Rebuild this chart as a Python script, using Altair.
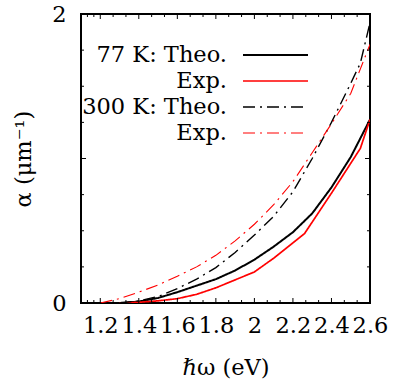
import altair as alt
import pandas as pd

# ---- data ----
series_names = ["77 K: Theo.", "77 K: Exp.", "300 K: Theo.", "300 K: Exp."]
legend_labels = ["77 K: Theo.", "Exp.", "300 K: Theo.", "Exp."]

x77_theo = [1.3, 1.4, 1.5, 1.6, 1.7, 1.8, 1.9, 2.0, 2.1, 2.2, 2.3, 2.4, 2.5, 2.6]
y77_theo = [0.0, 0.01, 0.035, 0.075, 0.12, 0.165, 0.225, 0.30, 0.39, 0.49, 0.62, 0.80, 1.01, 1.27]

x77_exp = [1.3, 1.4, 1.5, 1.6, 1.7, 1.8, 1.9, 2.0, 2.1, 2.26, 2.4, 2.55, 2.6]
y77_exp = [0.0, 0.005, 0.015, 0.03, 0.06, 0.105, 0.16, 0.215, 0.31, 0.48, 0.76, 1.07, 1.27]

x300_theo = [1.3, 1.4, 1.5, 1.6, 1.7, 1.8, 1.9, 2.0, 2.1, 2.2, 2.3, 2.4, 2.5, 2.55, 2.6]
y300_theo = [0.0, 0.015, 0.045, 0.10, 0.165, 0.245, 0.35, 0.47, 0.60, 0.77, 1.00, 1.25, 1.52, 1.66, 1.94]

x300_exp = [1.2, 1.3, 1.4, 1.5, 1.6, 1.7, 1.8, 1.9, 2.0, 2.1, 2.2, 2.3, 2.4, 2.5, 2.6]
y300_exp = [0.0, 0.03, 0.075, 0.125, 0.185, 0.25, 0.33, 0.43, 0.545, 0.68, 0.84, 1.04, 1.24, 1.45, 1.79]

x_major = [1.2, 1.4, 1.6, 1.8, 2.0, 2.2, 2.4, 2.6]
x_minor = [1.1333, 1.1667, 1.2667, 1.3333, 1.4667, 1.5333, 1.6667, 1.7333, 1.8667, 1.9333,
           2.0667, 2.1333, 2.2667, 2.3333, 2.4667, 2.5333]
y_major = [0, 1, 2]
y_minor = [0.25, 0.5, 0.75, 1.25, 1.5, 1.75]

# ---- styling ----
W, H = 289, 289
FONT = "DejaVu Serif"
FS = 22.5
colors = ["black", "red", "black", "red"]
dashes = [[1, 0], [1, 0], [12, 5, 2, 5], [12, 5, 2, 5]]
widths = [2.0, 1.1, 2.0, 1.2]

rows = []
for name, xs, ys in zip(series_names, [x77_theo, x77_exp, x300_theo, x300_exp],
                        [y77_theo, y77_exp, y300_theo, y300_exp]):
    for xv, yv in zip(xs, ys):
        rows.append({"series": name, "x": xv, "y": yv})
df = pd.DataFrame(rows)

xscale = alt.Scale(domain=[1.1, 2.6], nice=False, zero=False)
yscale = alt.Scale(domain=[0, 2], nice=False)
color_enc = alt.Color("series:N", scale=alt.Scale(domain=series_names, range=colors), legend=None)
dash_enc = alt.StrokeDash("series:N", scale=alt.Scale(domain=series_names, range=dashes), legend=None)
width_enc = alt.StrokeWidth("series:N", scale=alt.Scale(domain=series_names, range=widths), legend=None)

lines = alt.Chart(df).mark_line(clip=True).encode(
    x=alt.X("x:Q", scale=xscale,
            axis=alt.Axis(values=x_major, format="~g", title="ℏω (eV)", ticks=False, domain=False,
                          grid=False, labelFont=FONT, labelFontSize=FS, labelPadding=11,
                          labelOverlap=False, labelFlush=False, titleFont=FONT, titleFontSize=FS,
                          titleFontWeight="normal", titlePadding=20, labelColor="black",
                          titleColor="black")),
    y=alt.Y("y:Q", scale=yscale,
            axis=alt.Axis(values=y_major, format="d", title="α (μm⁻¹)", ticks=False, domain=False,
                          grid=False, labelFont=FONT, labelFontSize=FS, labelPadding=15,
                          labelOverlap=False, labelFlush=False, titleFont=FONT, titleFontSize=FS,
                          titleFontWeight="normal", titlePadding=16, labelColor="black",
                          titleColor="black")),
    color=color_enc,
    strokeDash=dash_enc,
    strokeWidth=width_enc,
    order=alt.Order("x:Q"),
)

# inward ticks on all four sides
xmaj = pd.DataFrame({"t": x_major})
xmin = pd.DataFrame({"t": x_minor})
ymaj = pd.DataFrame({"t": y_major})
ymin = pd.DataFrame({"t": y_minor})

def xticks(d, L):
    bot = alt.Chart(d).mark_rule(color="black", strokeWidth=1).encode(
        x=alt.X("t:Q", scale=xscale), y=alt.value(H), y2=alt.value(H - L))
    top = alt.Chart(d).mark_rule(color="black", strokeWidth=1).encode(
        x=alt.X("t:Q", scale=xscale), y=alt.value(0), y2=alt.value(L))
    return bot + top

def yticks(d, L):
    left = alt.Chart(d).mark_rule(color="black", strokeWidth=1).encode(
        y=alt.Y("t:Q", scale=yscale), x=alt.value(0), x2=alt.value(L))
    right = alt.Chart(d).mark_rule(color="black", strokeWidth=1).encode(
        y=alt.Y("t:Q", scale=yscale), x=alt.value(W), x2=alt.value(W - L))
    return left + right

# legend
leg = pd.DataFrame({"label": legend_labels, "series": series_names, "ly": [41, 67, 93, 119]})
leg_text = alt.Chart(leg).mark_text(align="right", baseline="middle", font=FONT, fontSize=FS,
                                    color="black").encode(
    x=alt.value(146), y=alt.Y("ly:Q", scale=None), text="label:N")
leg_lines = alt.Chart(leg).mark_rule().encode(
    x=alt.value(162), x2=alt.value(227), y=alt.Y("ly:Q", scale=None),
    color=color_enc, strokeDash=dash_enc, strokeWidth=width_enc)

chart = alt.layer(
    lines, xticks(xmaj, 5), xticks(xmin, 3), yticks(ymaj, 5), yticks(ymin, 3), leg_lines, leg_text
).properties(
    width=W, height=H,
    autosize=alt.AutoSizeParams(type="none"),
    padding={"left": 81, "top": 14, "right": 27, "bottom": 79},
    background="white",
).configure_view(stroke="black", strokeWidth=2)

chart.save("out.html", embed_options={"renderer": "svg", "actions": False})
